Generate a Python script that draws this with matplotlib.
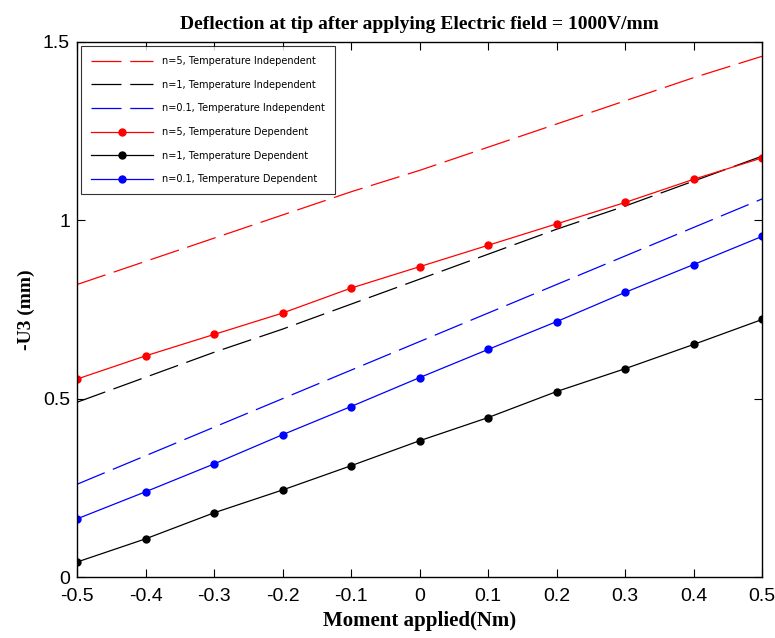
import matplotlib
matplotlib.use("Agg")
import matplotlib.pyplot as plt

moment = [-0.5, -0.4, -0.3, -0.2, -0.1, 0.0, 0.1, 0.2, 0.3, 0.4, 0.5]

n5_indep = [0.82, 0.885, 0.95, 1.015, 1.08, 1.14, 1.205, 1.27, 1.335, 1.40, 1.46]
n1_indep = [0.49, 0.56, 0.63, 0.695, 0.765, 0.835, 0.905, 0.975, 1.04, 1.11, 1.18]
n01_indep = [0.26, 0.34, 0.42, 0.50, 0.58, 0.66, 0.74, 0.82, 0.90, 0.98, 1.06]

n5_dep = [0.555, 0.62, 0.68, 0.74, 0.81, 0.87, 0.93, 0.99, 1.05, 1.115, 1.175]
n1_dep = [0.042, 0.107, 0.18, 0.244, 0.312, 0.382, 0.447, 0.52, 0.584, 0.652, 0.722]
n01_dep = [0.163, 0.239, 0.317, 0.399, 0.478, 0.559, 0.638, 0.716, 0.798, 0.876, 0.955]

labels = ["n=5, Temperature Independent", "n=1, Temperature Independent",
          "n=0.1, Temperature Independent", "n=5, Temperature Dependent",
          "n=1, Temperature Dependent", "n=0.1, Temperature Dependent"]

fig = plt.figure(figsize=(7.75, 6.38), dpi=100)
ax = fig.add_axes([0.0994, 0.0956, 0.884, 0.8386])

dash = (0, (24, 7))
ax.plot(moment, n5_indep, color="red", lw=0.9, linestyle=dash, label=labels[0])
ax.plot(moment, n1_indep, color="black", lw=0.9, linestyle=dash, label=labels[1])
ax.plot(moment, n01_indep, color="blue", lw=0.9, linestyle=dash, label=labels[2])
ax.plot(moment, n5_dep, color="red", lw=0.9, marker="o", ms=5, label=labels[3])
ax.plot(moment, n1_dep, color="black", lw=0.9, marker="o", ms=5, label=labels[4])
ax.plot(moment, n01_dep, color="blue", lw=0.9, marker="o", ms=5, label=labels[5])

ax.set_xlim(-0.5, 0.5)
ax.set_ylim(0, 1.5)
ax.set_xticks(moment)
ax.set_xticklabels(["-0.5", "-0.4", "-0.3", "-0.2", "-0.1", "0", "0.1", "0.2", "0.3", "0.4", "0.5"])
ax.set_yticks([0, 0.5, 1, 1.5])
ax.set_yticklabels(["0", "0.5", "1", "1.5"])
ax.tick_params(direction="in", top=True, right=True, length=6, width=0.8,
               labelsize=14)
ax.tick_params(axis="x", pad=8)
ax.tick_params(axis="y", pad=5)
for lab in ax.get_xticklabels() + ax.get_yticklabels():
    lab.set_fontfamily("Liberation Sans")
for s in ax.spines.values():
    s.set_linewidth(1.0)

ax.set_title("Deflection at tip after applying Electric field = 1000V/mm",
             fontfamily="Liberation Serif", fontweight="bold", fontsize=14, pad=9)
ax.set_xlabel("Moment applied(Nm)", fontfamily="Liberation Serif",
              fontweight="bold", fontsize=15, labelpad=4)
ax.set_ylabel("-U3 (mm)", fontfamily="Liberation Serif",
              fontweight="bold", fontsize=14, labelpad=6)

leg = ax.legend(loc="upper left", prop={"family": "DejaVu Sans", "size": 7.0},
                frameon=True, fancybox=False, edgecolor="black", borderpad=1.05,
                labelspacing=1.4, handlelength=6.4, handletextpad=0.9, borderaxespad=0.4)
leg.get_frame().set_linewidth(0.8)

fig.savefig("out.png", dpi=100)
